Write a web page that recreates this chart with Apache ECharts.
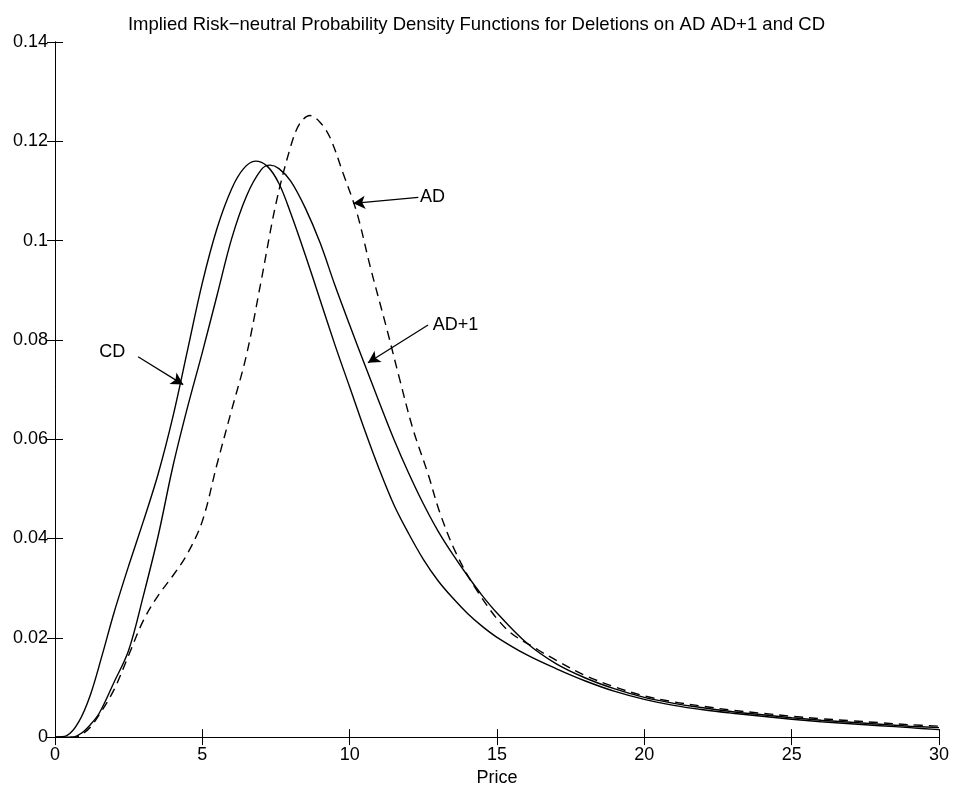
<!DOCTYPE html>
<html>
<head>
<meta charset="utf-8">
<script src="https://cdn.jsdelivr.net/npm/echarts@6/dist/echarts.min.js"></script>
<style>
html,body{margin:0;padding:0;background:#fff;}
#chart{width:953px;height:792px;}
</style>
</head>
<body>
<div id="chart"></div>
<script>
// ---- data ----
var titleText = 'Implied Risk\u2212neutral Probability Density Functions for Deletions on AD AD+1 and CD';
var xLabel = 'Price';

var cdX  = [0,0.4,0.8,1.2,1.6,2.0,2.5,3.0,3.5,4.0,4.5,5.0,5.5,6.0,6.4,6.8,7.2,7.6,8.0,8.5,9.0,9.5,10.0,10.5,11.0,11.5,12.0,12.5,13.0,13.5,14.0,14.5,15.0,16.0,17.0,18.0,19.0,20.0,21.0,22.0,23.0,24.0,25.0,26.0,27.0,28.0,29.0,30.0];
var cdY  = [0,0.0003,0.003,0.0085,0.0165,0.025,0.0345,0.0435,0.053,0.0645,0.078,0.0915,0.1025,0.1105,0.1145,0.116,0.115,0.1115,0.1055,0.097,0.088,0.079,0.0705,0.062,0.054,0.0468,0.041,0.0358,0.0315,0.028,0.0249,0.0223,0.0201,0.0166,0.0138,0.0113,0.0092,0.0076,0.0064,0.0055,0.0048,0.0042,0.0036,0.0031,0.0027,0.0023,0.0019,0.0015];

var ad1X = [0,0.6,0.9,1.2,1.5,2.0,2.5,3.0,3.5,4.0,4.5,5.0,5.5,6.0,6.5,7.0,7.3,7.6,8.0,8.5,9.0,9.5,10.0,10.5,11.0,11.5,12.0,12.5,13.0,13.5,14.0,14.5,15.0,16.0,17.0,18.0,19.0,20.0,21.0,22.0,23.0,24.0,25.0,26.0,27.0,28.0,29.0,30.0];
var ad1Y = [0,0,0.0008,0.0025,0.0048,0.011,0.0175,0.0285,0.0405,0.0545,0.0665,0.0775,0.089,0.1005,0.109,0.1143,0.1152,0.1145,0.112,0.1065,0.0995,0.091,0.083,0.0752,0.0675,0.060,0.0532,0.047,0.0415,0.0368,0.0325,0.0285,0.025,0.019,0.0148,0.0119,0.0097,0.008,0.0068,0.0059,0.0051,0.0045,0.0039,0.0034,0.003,0.0026,0.0022,0.0019];

var adX  = [0,0.7,0.9,1.2,1.5,2.0,2.5,3.0,3.5,4.0,4.5,5.0,5.5,6.0,6.5,7.0,7.5,8.0,8.3,8.65,9.0,9.33,9.78,10.25,10.7,11.27,11.7,12.15,12.66,13.06,13.6,14.3,15.33,16.36,17.0,18.0,19.0,20.0,21.0,22.0,23.0,24.0,25.0,26.0,27.0,28.0,29.0,30.0];
var adY  = [0,0,0.0005,0.002,0.0045,0.0095,0.0165,0.0235,0.0285,0.0325,0.037,0.0435,0.055,0.066,0.077,0.092,0.1075,0.119,0.1235,0.1252,0.1238,0.1208,0.1135,0.1055,0.0947,0.082,0.072,0.062,0.053,0.0452,0.0372,0.0297,0.0217,0.0177,0.0155,0.0124,0.0101,0.0083,0.0071,0.0062,0.0054,0.0048,0.0042,0.0037,0.0033,0.0029,0.0025,0.0022];

// annotations: label text, label anchor, arrow tail, arrow tip (data coordinates)
var annNames  = ['AD','AD+1','CD'];
var annText   = [[12.39,0.1087],[12.82,0.083],[2.38,0.0776]];
var annTail   = [[12.33,0.1087],[12.66,0.083],[2.82,0.0766]];
var annTip    = [[10.12,0.1075],[10.62,0.0754],[4.35,0.071]];
var annAlign  = ['left','left','right'];

function pairs(xs, ys){ return xs.map(function(x,i){ return [x, ys[i]]; }); }

var FONT = 'Liberation Sans, Arial, Helvetica, sans-serif';
var chart = echarts.init(document.getElementById('chart'), null, {renderer:'canvas'});

var axisLine = {show:true, lineStyle:{color:'#000', width:1}};
var tick = {show:true, inside:true, length:8, lineStyle:{color:'#000', width:1}};

var markLines = annNames.map(function(n,i){
  return [{coord: annTail[i]}, {coord: annTip[i]}];
});
var markPoints = annNames.map(function(n,i){
  return {coord: annText[i], value: n,
    label:{show:true, formatter:n, position: annAlign[i]==='left' ? 'right' : 'left', distance:0,
      color:'#000', fontSize:18, fontFamily:FONT}};
});

var option = {
  animation:false,
  backgroundColor:'#fff',
  title:{text:titleText, left:'center', top:10,
    textStyle:{color:'#000', fontSize:18.5, fontWeight:'normal', fontFamily:FONT}},
  grid:{left:55, right:14, top:42, bottom:54, show:false},
  xAxis:[
    {type:'value', min:0, max:30, interval:5, position:'bottom',
     name:xLabel, nameLocation:'middle', nameGap:22,
     nameTextStyle:{color:'#000', fontSize:18, fontFamily:FONT},
     axisLine:axisLine, axisTick:tick, splitLine:{show:false},
     axisLabel:{color:'#000', fontSize:18, fontFamily:FONT, margin:9}},
    {type:'value', min:0, max:30, interval:5, position:'top',
     axisLine:axisLine, axisTick:tick, splitLine:{show:false}, axisLabel:{show:false}}
  ],
  yAxis:[
    {type:'value', min:0, max:0.14, interval:0.02, position:'left',
     axisLine:axisLine, axisTick:tick, splitLine:{show:false},
     axisLabel:{color:'#000', fontSize:18, fontFamily:FONT, margin:7,
       formatter:function(v){ return String(Number(v.toFixed(2))); }}},
    {type:'value', min:0, max:0.14, interval:0.02, position:'right',
     axisLine:axisLine, axisTick:tick, splitLine:{show:false}, axisLabel:{show:false}}
  ],
  series:[
    {name:'CD', type:'line', data:pairs(cdX,cdY), smooth:0.35, symbol:'none',
     lineStyle:{color:'#000', width:1.4, type:'solid'},
     markLine:{silent:true, symbol:['none','arrow'], symbolSize:[10,12],
       lineStyle:{color:'#000', width:1.3, type:'solid'}, label:{show:false},
       data:markLines},
     markPoint:{symbol:'circle', symbolSize:0, data:markPoints}},
    {name:'AD+1', type:'line', data:pairs(ad1X,ad1Y), smooth:0.35, symbol:'none',
     lineStyle:{color:'#000', width:1.4, type:'solid'}},
    {name:'AD', type:'line', data:pairs(adX,adY), smooth:0.35, symbol:'none',
     lineStyle:{color:'#000', width:1.4, type:[9,6]}}
  ]
};
chart.setOption(option);
</script>
</body>
</html>
